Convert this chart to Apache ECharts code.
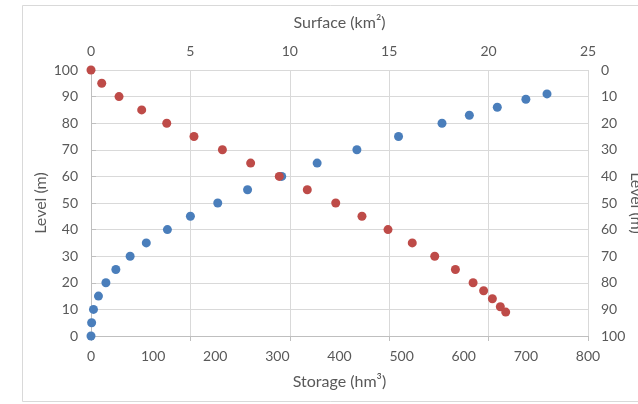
<!DOCTYPE html>
<html>
<head>
<meta charset="utf-8">
<script src="https://cdn.jsdelivr.net/npm/echarts@6/dist/echarts.min.js"></script>
<style>
  html, body { margin: 0; padding: 0; background: #fff; overflow: hidden; }
  #chart { width: 638px; height: 404px; }
</style>
</head>
<body>
<div id="chart"></div>
<script>
// Reservoir level against storage volume and flooded surface
const levels  = [0, 5, 10, 15, 20, 25, 30, 35, 40, 45, 50, 55, 60, 65, 70, 75, 80, 83, 86, 89, 91];
const storage = [0, 1, 4, 12, 24, 40, 63, 89, 123, 160, 204, 252, 307, 364, 428, 495, 565, 609, 654, 700, 734];
const surface = [0, 0.54, 1.41, 2.55, 3.81, 5.18, 6.61, 8.03, 9.47, 10.88, 12.31, 13.63, 14.94, 16.16, 17.29, 18.33, 19.22, 19.75, 20.19, 20.59, 20.86];

const storageTicks = [0, 100, 200, 300, 400, 500, 600, 700, 800];
const surfaceTicks = [0, 5, 10, 15, 20, 25];
const levelTicks   = [0, 10, 20, 30, 40, 50, 60, 70, 80, 90, 100];

const FONT = 'Lato';
const TEXT = '#595959';
const GRID = '#D9D9D9';
const AXIS = '#BFBFBF';

const labelStyle = { color: TEXT, fontFamily: FONT, fontSize: 14 };
const nameStyle = { color: TEXT, fontFamily: FONT, fontSize: 16 };

const chart = echarts.init(document.getElementById('chart'), null, { renderer: 'canvas' });

chart.setOption({
  animation: false,
  backgroundColor: '#fff',
  graphic: [{
    type: 'rect',
    shape: { x: 22.5, y: 5.5, width: 640, height: 396 },
    style: { fill: 'none', stroke: GRID, lineWidth: 1 },
    silent: true,
    z: -10
  }],
  grid: { left: 91, right: 50, top: 70, bottom: 68, containLabel: false, outerBoundsMode: 'none' },
  xAxis: [
    {
      type: 'value', position: 'bottom',
      min: 0, max: 800, interval: 100,
      name: 'Storage (hm³)', nameLocation: 'middle', nameGap: 38, nameMoveOverlap: false,
      nameTextStyle: nameStyle,
      axisLine: { show: true, lineStyle: { color: AXIS } },
      // tick marks sit at the surface-axis divisions
      axisTick: { show: true, inside: false, length: 5, lineStyle: { color: AXIS },
                  customValues: surfaceTicks.map(v => v * 800 / 25) },
      axisLabel: { ...labelStyle, margin: 13, customValues: storageTicks },
      splitLine: { show: true, lineStyle: { color: GRID } }
    },
    {
      type: 'value', position: 'top',
      min: 0, max: 25, interval: 5,
      name: 'Surface (km²)', nameLocation: 'middle', nameGap: 39, nameMoveOverlap: false,
      nameTextStyle: nameStyle,
      axisLine: { show: false },
      axisTick: { show: false },
      axisLabel: { ...labelStyle, margin: 12, customValues: surfaceTicks },
      splitLine: { show: false }
    }
  ],
  yAxis: [
    {
      type: 'value', position: 'left',
      min: 0, max: 100, interval: 10,
      name: 'Level (m)', nameLocation: 'middle', nameGap: 42, nameRotate: 90, nameMoveOverlap: false,
      nameTextStyle: nameStyle,
      axisLine: { show: true, lineStyle: { color: AXIS } },
      axisTick: { show: false },
      axisLabel: { ...labelStyle, margin: 13, customValues: levelTicks },
      splitLine: { show: true, lineStyle: { color: GRID } }
    },
    {
      type: 'value', position: 'right', inverse: true,
      min: 0, max: 100, interval: 10,
      name: 'Level (m)', nameLocation: 'middle', nameGap: 40, nameRotate: -90, nameMoveOverlap: false,
      nameTextStyle: nameStyle,
      axisLine: { show: true, lineStyle: { color: AXIS } },
      axisTick: { show: true, inside: false, length: 5, lineStyle: { color: AXIS } },
      axisLabel: { ...labelStyle, margin: 13, customValues: levelTicks },
      splitLine: { show: false }
    }
  ],
  series: [
    {
      name: 'Storage',
      type: 'scatter',
      xAxisIndex: 0, yAxisIndex: 0,
      symbolSize: 9,
      itemStyle: { color: '#4A7EBB', opacity: 1 },
      data: storage.map((s, i) => [s, levels[i]])
    },
    {
      name: 'Surface',
      type: 'scatter',
      xAxisIndex: 1, yAxisIndex: 1,
      symbolSize: 9,
      itemStyle: { color: '#BE4B48', opacity: 1 },
      data: surface.map((s, i) => [s, levels[i]])
    }
  ]
});
</script>
</body>
</html>
